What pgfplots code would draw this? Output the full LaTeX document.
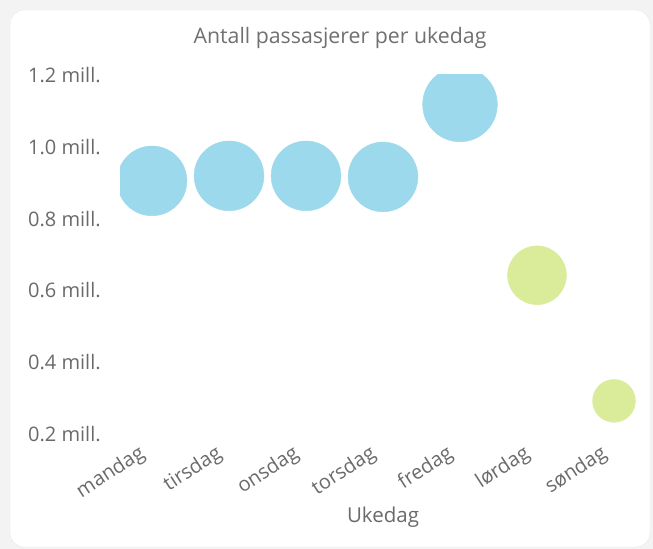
\documentclass[border=0pt]{standalone}
\usepackage{pgfplots}
\pgfplotsset{compat=1.18}
\usepackage{fontspec}
\setmainfont{Open Sans}
\definecolor{bub1}{HTML}{9DD9EC}
\definecolor{bub2}{HTML}{DAEC9A}
\definecolor{txt}{HTML}{6A6A6A}
\definecolor{ttl}{HTML}{707070}
\definecolor{bg}{HTML}{F3F3F3}
\begin{document}
\begin{tikzpicture}
\fill[bg] (0,0) rectangle (653bp,-549bp);
\draw[draw=black!9, fill=white, rounded corners=14bp] (10bp,-10bp) rectangle (650bp,-547bp);
\node[text=ttl, font=\fontsize{21.3bp}{24bp}\selectfont] at (340bp,-38bp) {Antall passasjerer per ukedag};
\begin{axis}[
  at={(120bp,-74bp)}, anchor=north west,
  width=526bp, height=366bp, scale only axis,
  xmin=-0.4156, xmax=6.4156, ymin=0.183, ymax=1.2028,
  axis line style={draw=none}, major tick length=0pt,
  clip marker paths=true,
  xtick={0,1,2,3,4,5,6},
  xticklabels={mandag,tirsdag,onsdag,torsdag,fredag,lørdag,søndag},
  xticklabel style={rotate=33, anchor=north east, inner sep=1bp, yshift=6bp, xshift=-13bp,
     text=txt, font=\fontsize{20bp}{23bp}\selectfont},
  ytick={0.2,0.4,0.6,0.8,1.0,1.2},
  yticklabels={0.2 mill.,0.4 mill.,0.6 mill.,0.8 mill.,1.0 mill.,1.2 mill.},
  yticklabel style={anchor=west, inner sep=0pt, xshift=-92bp, text=txt, font=\fontsize{20bp}{23bp}\selectfont},
  xlabel={Ukedag},
  xlabel style={at={(axis description cs:0.5,0)}, anchor=center, yshift=-77bp, text=txt, font=\fontsize{20.5bp}{23bp}\selectfont},
]
\addplot[scatter, only marks, mark=*, scatter/use mapped color={draw=bub1,fill=bub1},
  visualization depends on={\thisrow{r}\as\rr},
  scatter/@pre marker code/.append style={/tikz/mark size=\rr}]
  table[x=x,y=y]{
x y r
0 0.905 35
1 0.919 35
2 0.919 35
3 0.916 35
4 1.118 37.5
};
\addplot[scatter, only marks, mark=*, scatter/use mapped color={draw=bub2,fill=bub2},
  visualization depends on={\thisrow{r}\as\rr},
  scatter/@pre marker code/.append style={/tikz/mark size=\rr}]
  table[x=x,y=y]{
x y r
5 0.642 29.5
6 0.292 21.5
};
\end{axis}
\end{tikzpicture}
\end{document}
